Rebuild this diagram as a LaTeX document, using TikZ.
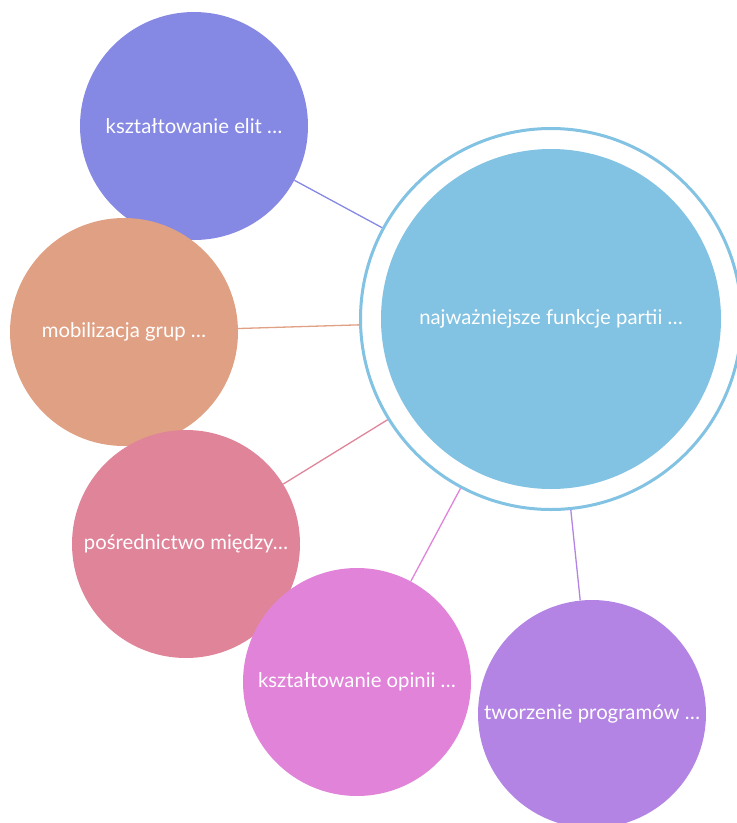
\documentclass[tikz,border=0pt]{standalone}
\usepackage{fontspec}
\setmainfont{Lato}
\usetikzlibrary{positioning}
\definecolor{cElit}{HTML}{8589E3}
\definecolor{cMob}{HTML}{E0A083}
\definecolor{cPos}{HTML}{E0849A}
\definecolor{cOpi}{HTML}{E183D9}
\definecolor{cPro}{HTML}{B384E3}
\definecolor{cMain}{HTML}{82C2E2}
\tikzset{
	bubble/.style={shape=circle,inner sep=0pt,minimum size=228pt,text=white,font=\fontsize{20.3}{24}\selectfont},
	link/.style={line width=1.3pt}
}

\begin{document}
\begin{tikzpicture}[x=1pt,y=-1pt]
		\useasboundingbox (0,0) rectangle (737,823);
		\node(ring) at (551,319) [shape=circle,draw=cMain,line width=3pt,minimum size=381pt] {};
		\node(main) at (551,319) [bubble,fill=cMain,minimum size=340pt] {najważniejsze funkcje partii …};
		\node(elit) at (194,126) [bubble,fill=cElit] {kształtowanie elit …};
		\node(mob) at (124,332) [bubble,fill=cMob] {mobilizacja grup …};
		\node(pos) at (186,544) [bubble,fill=cPos] {pośrednictwo między…};
		\node(opi) at (357,682) [bubble,fill=cOpi] {kształtowanie opinii …};
		\node(pro) at (592,714) [bubble,fill=cPro] {tworzenie programów …};
		\draw [link,cElit] (elit) -- (ring);
		\draw [link,cMob] (mob) -- (ring);
		\draw [link,cPos] (pos) -- (ring);
		\draw [link,cOpi] (opi) -- (ring);
		\draw [link,cPro] (pro) -- (ring);
	\end{tikzpicture}
\end{document}
